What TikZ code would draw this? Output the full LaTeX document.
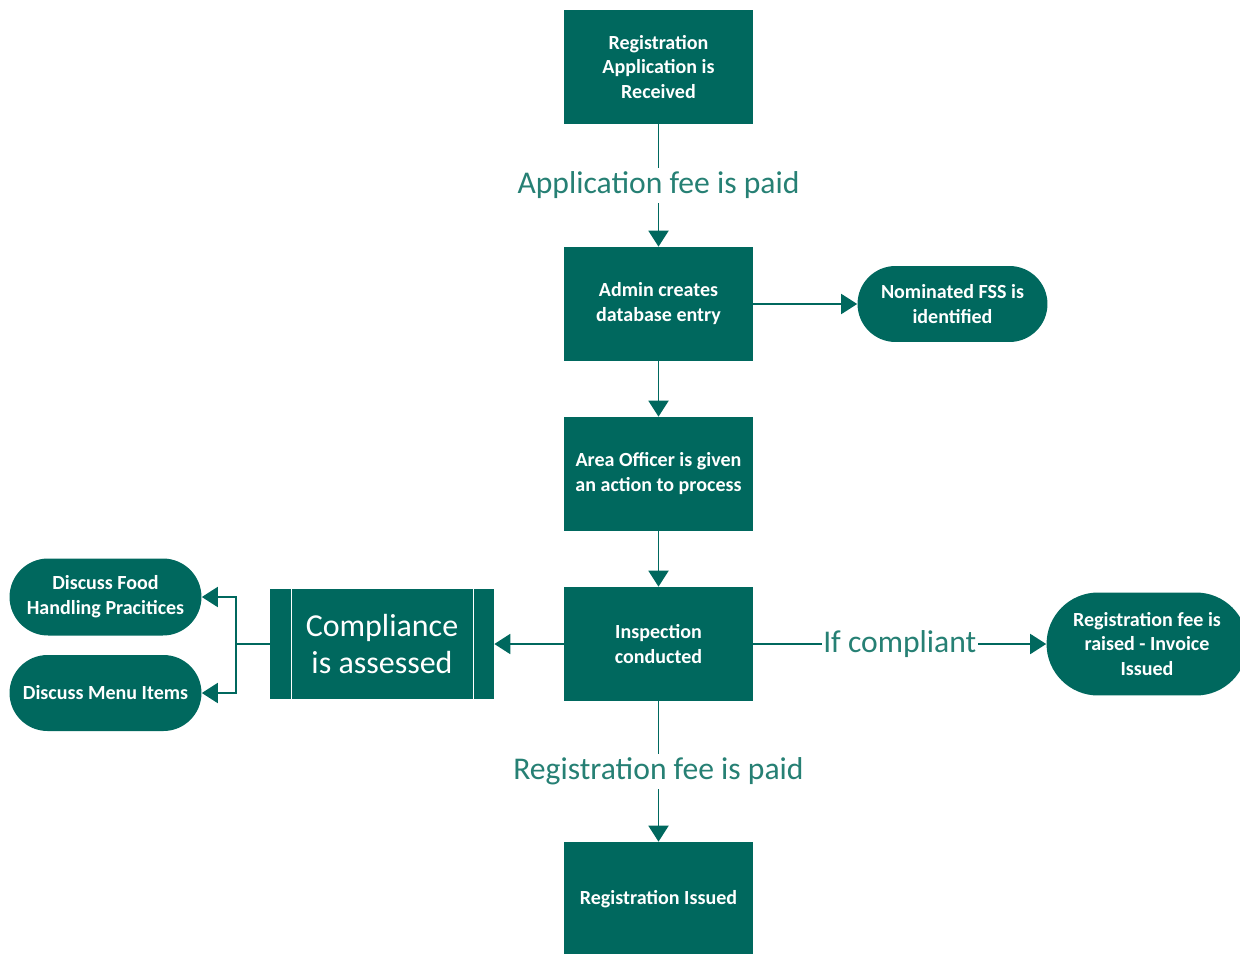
\documentclass[tikz,border=0pt]{standalone}
\usepackage{fontspec}
\setmainfont{Carlito}
\usetikzlibrary{arrows.meta,calc,shapes.misc}
\definecolor{teal1}{RGB}{0,104,94}
\definecolor{teal2}{RGB}{38,128,116}
\tikzset{
  px/.style={x=0.02cm,y=-0.02cm},
  box/.style={rectangle,fill=teal1,text=white,minimum width=3.78cm,minimum height=2.28cm,align=center,inner sep=2pt,font=\fontsize{11.4}{14.2}\selectfont\bfseries},
  pill/.style={rounded rectangle,fill=teal1,text=white,align=center,inner sep=2pt,font=\fontsize{11.4}{14.2}\selectfont\bfseries},
  conn/.style={draw=teal1,line width=1.1pt,-{Triangle[length=0.32cm,width=0.4cm]}},
  plain/.style={draw=teal1,line width=1.1pt},
  lbl/.style={fill=white,text=teal2,inner sep=2pt,font=\fontsize{18}{21}\selectfont},
}
\begin{document}
\begin{tikzpicture}[px]
\useasboundingbox (0,0) rectangle (1240,953);
\node[box] (recv) at (658.5,67) {Registration\\Application is\\Received};
\node[box] (admin) at (658.5,304) {Admin creates\\database entry};
\node[box] (area) at (658.5,474) {Area Officer is given\\an action to process};
\node[box] (insp) at (658.5,644) {Inspection\\conducted};
\node[box] (issued) at (658.5,899) {Registration Issued};
\node[pill,minimum width=3.94cm,minimum height=1.52cm] (fss) at (952.5,304) {Nominated FSS is\\identified};
\node[pill,minimum width=4.16cm,minimum height=2.06cm] (fee) at (1147,644) {Registration fee is\\raised - Invoice\\Issued};
\node[rectangle,fill=teal1,text=white,minimum width=4.48cm,minimum height=2.2cm,align=center,font=\fontsize{18.2}{21.5}\selectfont] (comp) at (382,644) {Compliance\\is assessed};
\draw[white,line width=0.6pt] ($(comp.north west)+(22,0)$) -- ($(comp.south west)+(22,0)$);
\draw[white,line width=0.6pt] ($(comp.north east)+(-21,0)$) -- ($(comp.south east)+(-21,0)$);
\node[pill,minimum width=3.98cm,minimum height=1.54cm] (food) at (105.5,597) {Discuss Food\\Handling Pracitices};
\node[pill,minimum width=3.98cm,minimum height=1.52cm] (menu) at (105.5,693) {Discuss Menu Items};
% connectors
\draw[conn] (recv) -- node[lbl,pos=0.5] {Application fee is paid} (admin);
\draw[conn] (admin) -- (fss);
\draw[conn] (admin) -- (area);
\draw[conn] (area) -- (insp);
\draw[conn] (insp) -- (comp);
\draw[conn] (insp) -- node[lbl,pos=0.5,inner sep=1pt] {If compliant} (fee);
\draw[conn] (insp) -- node[lbl,pos=0.5] {Registration fee is paid} (issued);
\coordinate (split) at (236,644);
\draw[plain] (comp.west) -- (split);
\draw[conn] (split) |- (food.east);
\draw[conn] (split) |- (menu.east);
\end{tikzpicture}
\end{document}
